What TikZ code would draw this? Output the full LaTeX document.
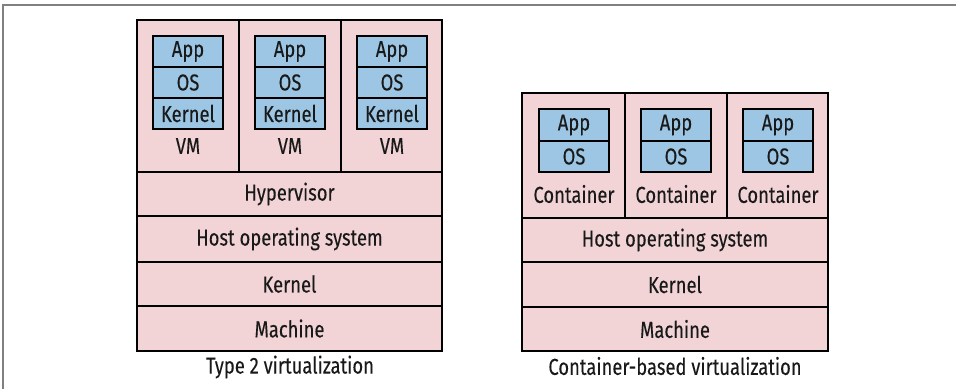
\documentclass[tikz,border=0pt]{standalone}
\usepackage{fontspec}
\setmainfont{Fira Sans}[FakeStretch=0.80,FakeBold=0.15]
\definecolor{pinkbg}{RGB}{242,212,214}
\definecolor{bluebox}{RGB}{156,198,228}
\definecolor{framegray}{RGB}{128,128,128}
\definecolor{txt}{RGB}{25,25,25}
\begin{document}
\begin{tikzpicture}[x=1pt,y=-1pt,
  layer/.style={draw=black,fill=pinkbg,line width=2pt,inner sep=0pt,text=txt,font=\fontsize{23}{23}\selectfont},
  cell/.style={draw=black,fill=pinkbg,line width=2pt,inner sep=0pt},
  blk/.style={draw=black,fill=bluebox,line width=2pt,inner sep=0pt,minimum width=70pt,text=txt,font=\fontsize{23}{23}\selectfont},
  lbl/.style={inner sep=0pt,text=txt,font=\fontsize{23}{23}\selectfont},
  captxt/.style={inner sep=0pt,text=txt,font=\fontsize{23}{23}\selectfont}]
\useasboundingbox (0,0) rectangle (956,389);
\coordinate (ftl) at (3,5);
\coordinate (ftr) at (956,5);
\coordinate (fbl) at (3,389);
\draw[framegray,line width=2pt] (ftr) -- (ftl) -- (fbl);

% ---- Type 2 virtualization ----
\node[cell,minimum width=102pt,minimum height=152pt] (vm1) at (188,96) {};
\node[cell,minimum width=102pt,minimum height=152pt] (vm2) at (290,96) {};
\node[cell,minimum width=101pt,minimum height=152pt] (vm3) at (391.5,96) {};
\node[layer,minimum width=305pt,minimum height=44pt] (hyp) at (289.5,194) {Hypervisor};
\node[layer,minimum width=305pt,minimum height=46pt] (hosta) at (289.5,239) {Host operating system};
\node[layer,minimum width=305pt,minimum height=44pt] (kerna) at (289.5,284) {Kernel};
\node[layer,minimum width=305pt,minimum height=45pt] (macha) at (289.5,328.5) {Machine};
\foreach \i/\x in {1/188,2/290,3/392}{
  \node[blk,minimum height=31pt] (app\i) at (\x,51.5) {App};
  \node[blk,minimum height=31pt] (os\i) at (\x,82.5) {OS};
  \node[blk,minimum height=31pt] (kn\i) at (\x,113.5) {Kernel};
  \node[lbl] (vml\i) at (\x,146) {VM};
}
\node[captxt] (capa) at (290,367) {Type 2 virtualization};

% ---- Container-based virtualization ----
\node[cell,minimum width=103pt,minimum height=125pt] (ct1) at (573.5,155.5) {};
\node[cell,minimum width=102pt,minimum height=125pt] (ct2) at (676,155.5) {};
\node[cell,minimum width=101pt,minimum height=125pt] (ct3) at (777.5,155.5) {};
\node[layer,minimum width=306pt,minimum height=44pt] (hostb) at (675,240) {Host operating system};
\node[layer,minimum width=306pt,minimum height=45pt] (kernb) at (675,284.5) {Kernel};
\node[layer,minimum width=306pt,minimum height=44pt] (machb) at (675,329) {Machine};
\foreach \i/\x in {1/574,2/676,3/778}{
  \node[blk,minimum height=32pt] (capp\i) at (\x,125) {App};
  \node[blk,minimum height=31pt] (cos\i) at (\x,156.5) {OS};
  \node[lbl] (ctl\i) at (\x,194) {Container};
}
\node[captxt] (capb) at (675,366) {Container-based virtualization};
\end{tikzpicture}
\end{document}
